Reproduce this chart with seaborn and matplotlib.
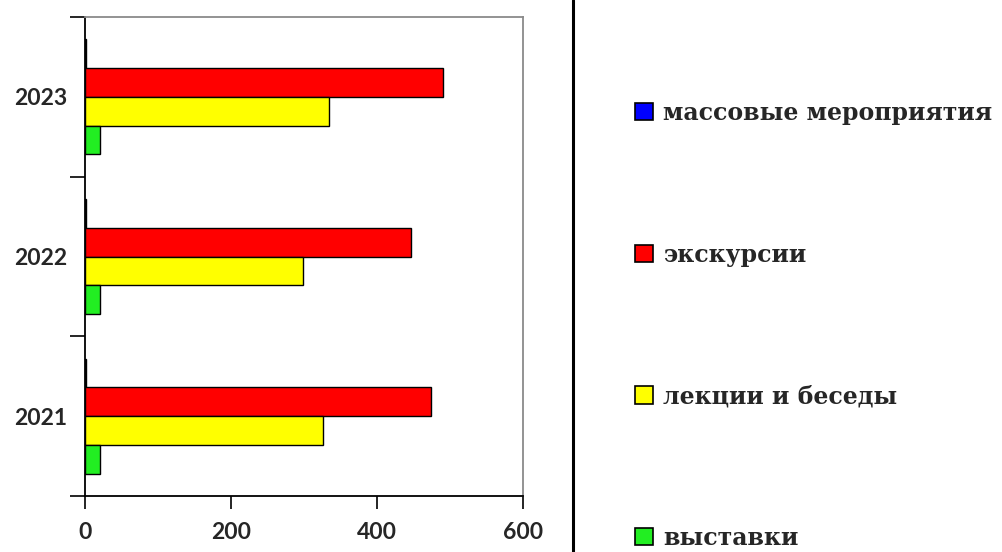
import matplotlib
matplotlib.use("Agg")
import matplotlib.pyplot as plt
from matplotlib.lines import Line2D
from matplotlib.patches import Patch
import numpy as np
import pandas as pd
import seaborn as sns

years = ["2023", "2022", "2021"]
series = ["массовые мероприятия", "экскурсии", "лекции и беседы", "выставки"]
mass_events = [2, 2, 2]
excursions = [490, 446, 474]
lectures = [334, 299, 326]
exhibitions = [20, 20, 20]
colors = ["#0000FF", "#FF0000", "#FFFF00", "#22EE22"]
x_ticks = [0, 200, 400, 600]

rows = []
for name, vals in zip(series, [mass_events, excursions, lectures, exhibitions]):
    for y, v in zip(years, vals):
        rows.append({"year": y, "series": name, "value": v})
df = pd.DataFrame(rows)

sns.set_theme(style="white")
fig = plt.figure(figsize=(10.03, 5.52), dpi=100)
ax = fig.add_axes([85 / 1003, 1 - 496 / 552, (523 - 85) / 1003, (496 - 17) / 552])

sns.barplot(data=df, x="value", y="year", hue="series", order=years,
            hue_order=series, palette=colors, orient="h", width=0.72,
            edgecolor="black", linewidth=1.0, saturation=1, ax=ax, legend=False)

ax.set_xlim(0, 600)
ax.set_ylim(2.5, -0.5)
ax.set_xlabel("")
ax.set_ylabel("")

tick_font = dict(family="Lato", weight="bold", size=16.5)
ax.set_xticks(x_ticks)
ax.set_xticklabels([str(t) for t in x_ticks], fontdict=tick_font)

# major y ticks at category boundaries, labels centred on the groups
ax.set_yticks([-0.5, 0.5, 1.5, 2.5])
ax.set_yticklabels([])
ax.set_yticks([0, 1, 2], minor=True)
ax.set_yticklabels(years, minor=True, fontdict=tick_font)
ax.tick_params(axis="y", which="minor", length=0, pad=13)
ax.tick_params(axis="y", which="major", length=11, width=1.2, color="black", direction="out", left=True)
ax.tick_params(axis="x", which="major", length=9, width=1.2, color="black", direction="out", bottom=True, pad=10)

for side in ["left", "bottom"]:
    ax.spines[side].set_color("black")
    ax.spines[side].set_linewidth(1.3)
for side in ["top", "right"]:
    ax.spines[side].set_visible(True)
    ax.spines[side].set_color("#8a8a8a")
    ax.spines[side].set_linewidth(1.3)
ax.grid(False)

# separator between plot and legend
fig.add_artist(Line2D([573 / 1003, 573 / 1003], [0, 1], color="black", linewidth=2.2,
                      transform=fig.transFigure))

handles = [Patch(facecolor=c, edgecolor="black", linewidth=1.2) for c in colors]
leg = fig.legend(handles, series, loc="upper left", bbox_to_anchor=(635 / 1003, 1 - 101 / 552),
                 frameon=False, prop=dict(family="DejaVu Serif", weight="bold", size=17),
                 labelspacing=4.98, handlelength=0.76, handleheight=0.76, handletextpad=0.42,
                 borderaxespad=0, borderpad=0)

fig.savefig("out.png", dpi=100, facecolor="white")
